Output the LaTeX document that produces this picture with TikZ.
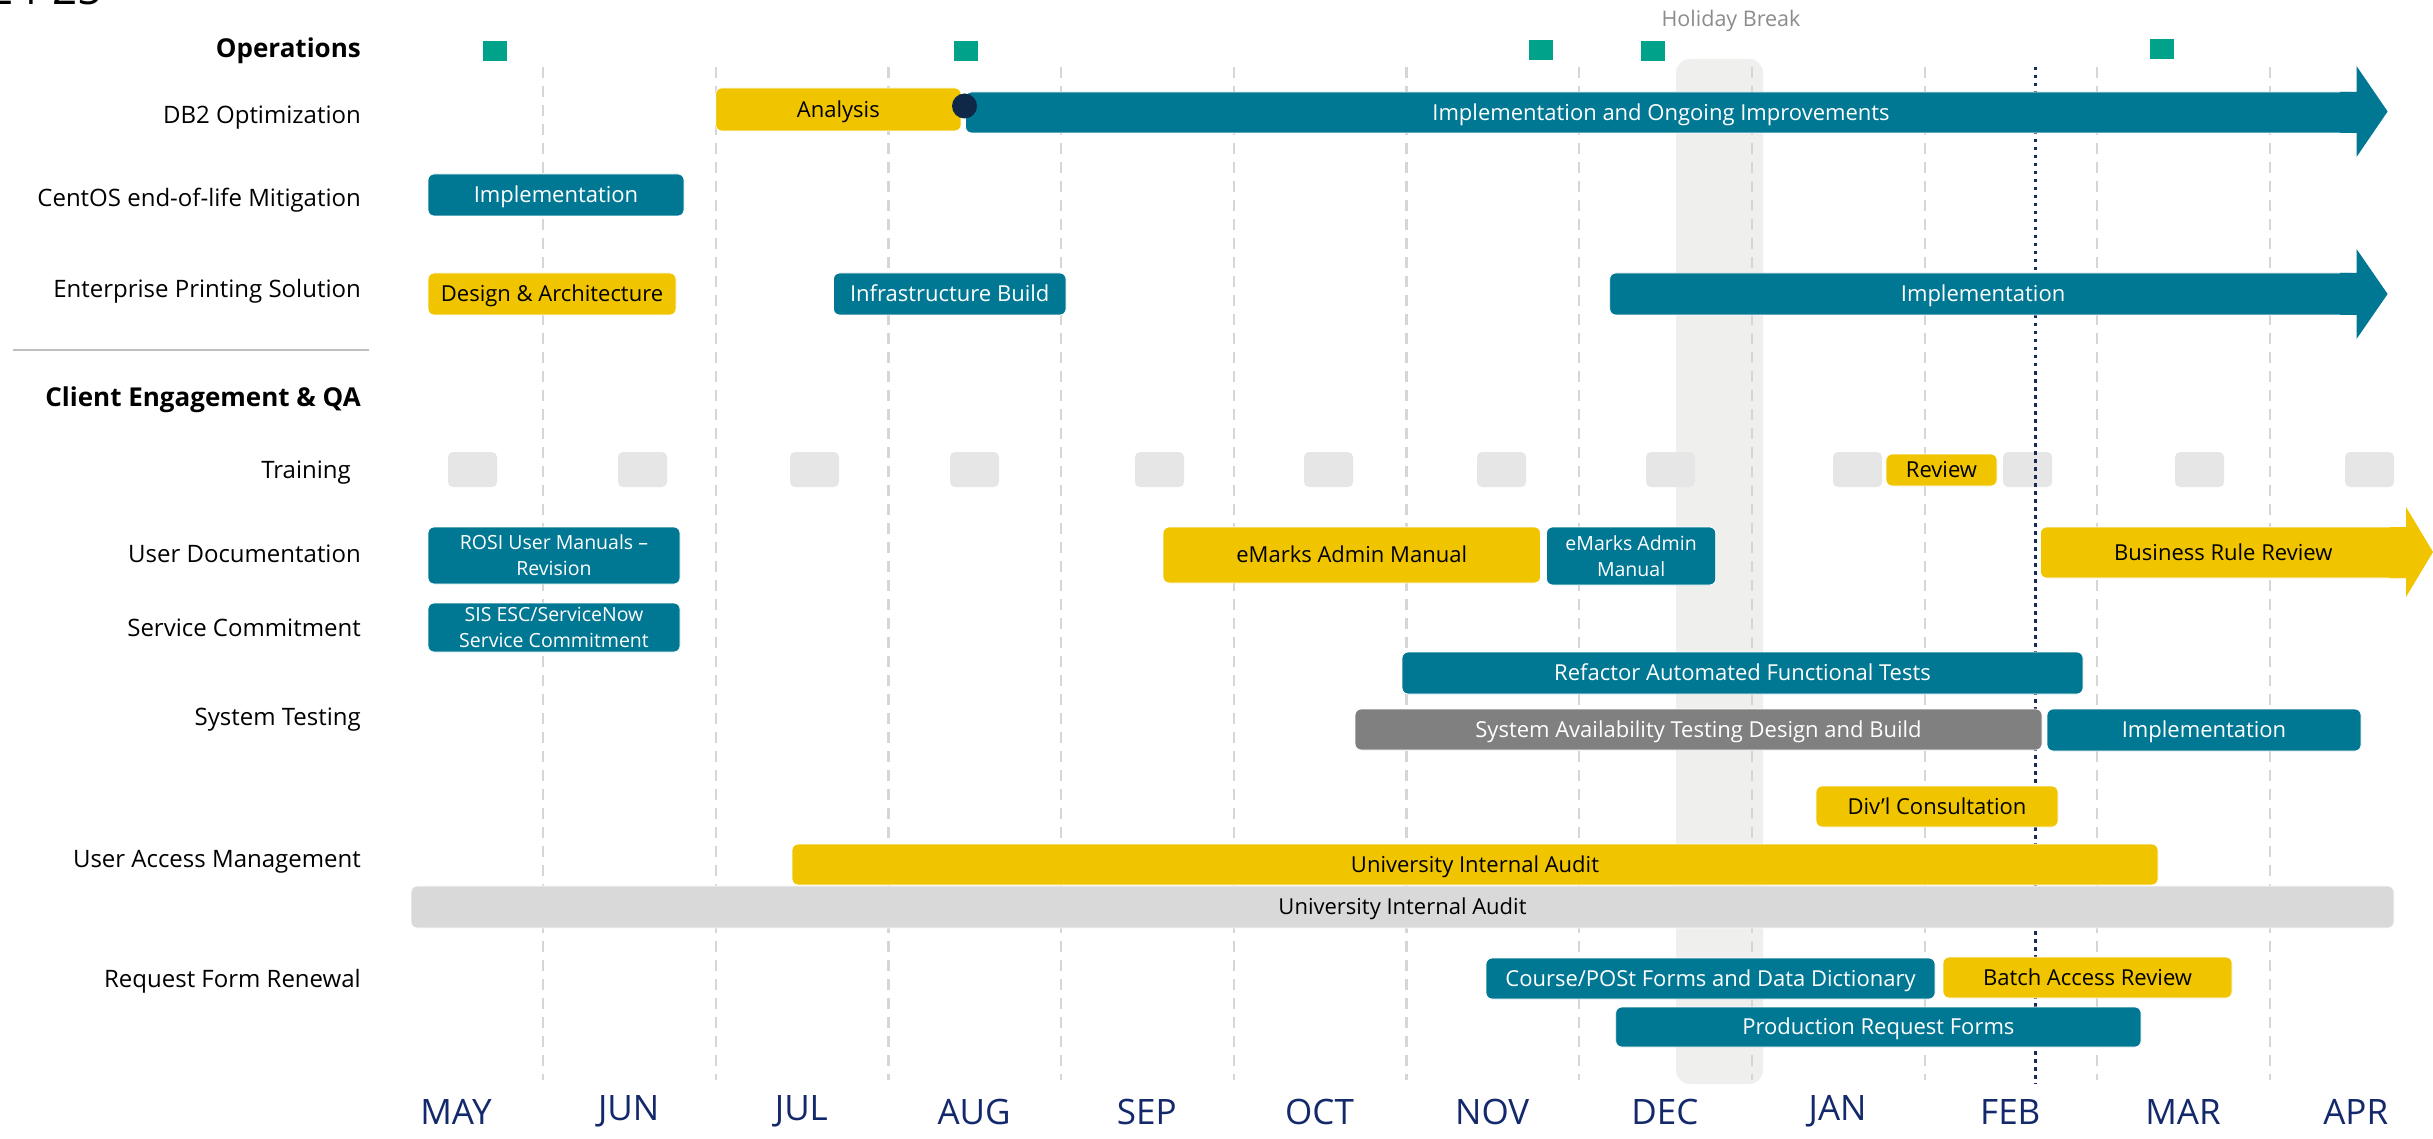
\documentclass[tikz,border=0pt]{standalone}
\usepackage{fontspec}
\setmainfont{Open Sans}
\definecolor{tealc}{HTML}{007894}
\definecolor{yelc}{HTML}{F0C500}
\definecolor{grayc}{HTML}{808080}
\definecolor{lgrayc}{HTML}{D9D9D9}
\definecolor{traingray}{HTML}{E6E6E6}
\definecolor{bandc}{HTML}{EFEFED}
\definecolor{gridc}{HTML}{D6D6D6}
\definecolor{milec}{HTML}{00A389}
\definecolor{navyc}{HTML}{13296B}
\definecolor{dotc}{HTML}{1A2B5E}
\definecolor{circc}{HTML}{0F2847}
\definecolor{holc}{HTML}{8C8C8C}
\definecolor{sepc}{HTML}{BFBFBF}
\newcommand\gbar[7]{\node[#6, minimum width={#4-#2}, minimum height={#5-#3}] (#1) at ({(#2+#4)/2},{(#3+#5)/2}) {#7};}
\begin{document}
\begin{tikzpicture}[x=1pt,y=-1pt,
  lbl/.style={anchor=east, font=\fontsize{24}{28}\selectfont, text=black, inner sep=0pt, text height=17pt, text depth=0pt},
  hdr/.style={lbl, font=\fontsize{26}{30}\selectfont\bfseries, text height=18.5pt},
  barbase/.style={rounded corners=6pt, inner sep=0pt, font=\fontsize{22}{26}\selectfont, draw=white, line width=0.8pt, text height=15.7pt, text depth=0pt},
  tealbar/.style={barbase, fill=tealc, text=white},
  yelbar/.style={barbase, fill=yelc, text=black},
  graybar/.style={barbase, fill=grayc, text=white},
  lgraybar/.style={barbase, fill=lgrayc, text=black},
  twoline/.style={align=center, font=\fontsize{19.5}{26}\selectfont, text height={}, text depth={}},
  trainbox/.style={rounded corners=5pt, fill=traingray, minimum width=49pt, minimum height=35pt, inner sep=0pt},
  mile/.style={fill=milec, minimum width=24pt, minimum height=20pt, inner sep=0pt},
  month/.style={font=\fontsize{35}{40}\selectfont, text=navyc, inner sep=0pt},
  gridline/.style={draw=gridc, line width=2.2pt, dash pattern=on 11pt off 8pt},
]
\useasboundingbox (0,0) rectangle (2433,1139);
\clip (0,0) rectangle (2433,1139);
\fill[white] (0,0) rectangle (2433,1139);

% cropped title
\node[anchor=base east, font=\fontsize{44}{50}\selectfont, inner sep=0pt] (title) at (103,5) {24-25};

% holiday band
\fill[bandc, rounded corners=14pt] (1676,59) rectangle (1763,1084);
\node[font=\fontsize{21.5}{25}\selectfont, text=holc, inner sep=0pt] (holiday) at (1731,21) {Holiday Break};

% grid
\foreach \k in {0,...,10} {
  \coordinate (gt\k) at ({543+172.7*\k},67);
  \coordinate (gb\k) at ({543+172.7*\k},1080);
  \draw[gridline] (gt\k) -- (gb\k);
}

% training squares
\foreach \xx [count=\i] in {448,618,790,950,1135,1304,1477,1646,1833,2003,2175,2345} {
  \node[trainbox] (tr\i) at ({\xx+24.5},469.5) {};
}

% today line
\coordinate (todaytop) at (2035.5,67);
\coordinate (todaybot) at (2035.5,1084);
\draw[dotc, line width=3.5pt, dash pattern=on 3.5pt off 4.5pt] (todaytop) -- (todaybot);

% separator
\coordinate (sepl) at (13,350);
\coordinate (sepr) at (369,350);
\draw[sepc, line width=2.5pt] (sepl) -- (sepr);

% labels
\node[hdr] (l0) at (361,48) {Operations};
\node[lbl] (l1) at (361,115) {DB2 Optimization};
\node[lbl] (l2) at (361,198) {CentOS end-of-life Mitigation};
\node[lbl] (l3) at (361,289) {Enterprise Printing Solution};
\node[hdr] (l4) at (361,397) {Client Engagement \& QA};
\node[lbl] (l5) at (351,470) {Training};
\node[lbl] (l6) at (361,554) {User Documentation};
\node[lbl] (l7) at (361,628) {Service Commitment};
\node[lbl] (l8) at (361,717) {System Testing};
\node[lbl] (l9) at (361,859) {User Access Management};
\node[lbl] (l10) at (361,979) {Request Form Renewal};

% bars
\gbar{analysis}{715.6}{88}{961}{131}{yelbar}{Analysis}
\gbar{db2impl}{965.5}{92}{2356.5}{133}{tealbar}{Implementation and Ongoing Improvements}
\fill[tealc] (2340,92) -- (2356.5,92) -- (2356.5,66) -- (2387.6,111.5) -- (2356.5,157) -- (2356.5,133) -- (2340,133) -- cycle;
\gbar{centosimpl}{428}{174}{684}{216}{tealbar}{Implementation}
\gbar{design}{428}{273}{676}{315}{yelbar}{Design \& Architecture}
\gbar{infra}{833.5}{273}{1066}{315}{tealbar}{Infrastructure Build}
\gbar{epsimpl}{1609.7}{273}{2356.5}{315}{tealbar}{Implementation}
\fill[tealc] (2340,273) -- (2356.5,273) -- (2356.5,249) -- (2387.6,294) -- (2356.5,339) -- (2356.5,315) -- (2340,315) -- cycle;
\gbar{review}{1886}{454}{1997}{486}{yelbar}{Review}
\gbar{rosi}{428}{527}{680}{584}{tealbar,twoline}{ROSI User Manuals –\\Revision}
\gbar{emarksy}{1163}{527}{1540.5}{583}{yelbar}{eMarks Admin Manual}
\gbar{emarkst}{1546.5}{527}{1715.7}{585}{tealbar,twoline}{eMarks Admin\\Manual}
\gbar{brr}{2040.5}{527}{2406}{578}{yelbar}{Business Rule Review}
\fill[yelc] (2390,527) -- (2406,527) -- (2406,507) -- (2433,552) -- (2406,597) -- (2406,578) -- (2390,578) -- cycle;
\gbar{sis}{428}{603}{680}{652}{tealbar,twoline}{SIS ESC/ServiceNow\\Service Commitment}
\gbar{refactor}{1402}{652}{2083}{694}{tealbar}{Refactor Automated Functional Tests}
\gbar{sysavail}{1355}{709}{2042}{750}{graybar}{System Availability Testing Design and Build}
\gbar{sysimpl}{2047}{709}{2361}{751}{tealbar}{Implementation}
\gbar{divl}{1816}{786}{2058}{827}{yelbar}{Div’l Consultation}
\gbar{uiay}{792}{844}{2158}{885}{yelbar}{University Internal Audit}
\gbar{uiag}{411}{886}{2394}{928}{lgraybar}{University Internal Audit}
\gbar{course}{1486}{958}{1935}{999}{tealbar}{Course/POSt Forms and Data Dictionary}
\gbar{batch}{1943}{957}{2232}{998}{yelbar}{Batch Access Review}
\gbar{prod}{1615.7}{1007}{2141}{1047}{tealbar}{Production Request Forms}

% milestone circle
\fill[circc] (964.5,106) circle (12.5pt);

% milestones
\node[mile] (m1) at (495,51) {};
\node[mile] (m2) at (966,51) {};
\node[mile] (m3) at (1541,50) {};
\node[mile] (m4) at (1653,51) {};
\node[mile] (m5) at (2162,49) {};

% months
\foreach \m [count=\i from 0] in {MAY,JUN,JUL,AUG,SEP,OCT,NOV,DEC,JAN,FEB,MAR,APR} {
  \node[month] (mon\i) at ({456+172.7*\i},1111.7) {\m};
}
\end{tikzpicture}
\end{document}
